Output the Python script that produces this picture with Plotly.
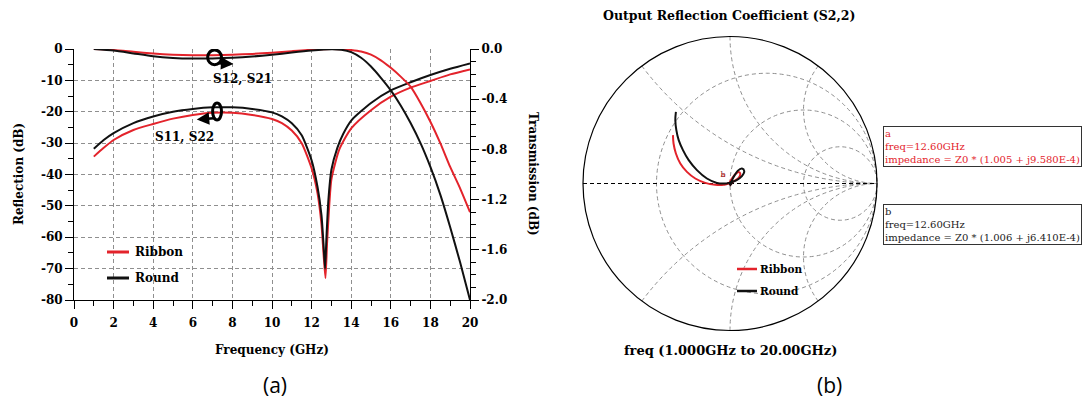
import numpy as np
import plotly.graph_objects as go

# ---------------------------------------------------------------- data
# (a) reflection S11/S22 in dB versus frequency (GHz)
REFL_FREQ = [1, 1.5, 2, 3, 4, 5, 6, 7, 8, 9, 10, 10.5, 11, 11.5, 12, 12.3, 12.5,
             12.6, 12.68, 12.75, 12.85, 13, 13.3, 13.6, 14, 15, 16, 17, 18, 19, 20]
REFL_ROUND = [-31.8, -29.0, -26.8, -23.6, -21.5, -20.0, -19.1, -18.6, -18.6, -19.1,
              -20.2, -21.5, -23.7, -27.5, -35.5, -44.0, -53.0, -62.0, -70.0, -60.0,
              -48.0, -38.5, -31.5, -27.0, -22.8, -17.2, -13.2, -10.6, -8.3, -6.3, -4.6]
REFL_FREQ_R = [1, 1.5, 2, 3, 4, 5, 6, 7, 8, 9, 10, 10.5, 11, 11.5, 12, 12.3, 12.5,
               12.6, 12.7, 12.78, 12.9, 13, 13.4, 14, 15, 16, 17, 18, 19, 20]
REFL_RIBBON = [-34.3, -31.5, -29.0, -25.8, -23.9, -22.2, -21.0, -20.3, -20.3, -21.0,
               -22.3, -23.6, -26.0, -30.0, -38.0, -46.0, -56.0, -65.0, -73.0, -62.0,
               -49.0, -41.5, -32.0, -25.3, -19.5, -15.2, -12.3, -10.2, -8.1, -6.5]

# (a) transmission S12/S21 in dB versus frequency (GHz)
TRANS_FREQ = [1, 2, 3, 4, 5, 6, 7, 8, 9, 10, 11, 12, 13, 13.5, 14, 14.5, 15, 15.5,
              16, 16.5, 17, 17.5, 18, 18.5, 19, 19.5, 20]
TRANS_ROUND = [0.0, -0.012, -0.035, -0.058, -0.071, -0.076, -0.075, -0.070, -0.060,
               -0.046, -0.028, -0.012, -0.002, -0.006, -0.025, -0.07, -0.14, -0.23,
               -0.33, -0.45, -0.59, -0.75, -0.94, -1.16, -1.42, -1.70, -2.0]
TRANS_RIBBON = [0.0, -0.008, -0.022, -0.036, -0.045, -0.049, -0.050, -0.046, -0.039,
                -0.029, -0.017, -0.006, 0.0, -0.002, -0.008, -0.02, -0.045, -0.09,
                -0.15, -0.22, -0.30, -0.43, -0.58, -0.75, -0.94, -1.11, -1.30]

# (b) output reflection coefficient S22 (complex, 1 GHz -> 20 GHz)
S22_ROUND_RE = [-0.368, -0.372, -0.365, -0.349, -0.320, -0.281, -0.225, -0.157, -0.089,
                -0.032, 0.002, 0.025, 0.052, 0.081, 0.097, 0.081, 0.043, 0.007]
S22_ROUND_IM = [0.487, 0.431, 0.363, 0.295, 0.227, 0.159, 0.091, 0.034, 0.004,
                0.0, 0.007, 0.045, 0.086, 0.102, 0.084, 0.050, 0.022, 0.011]
S22_RIBBON_RE = [-0.388, -0.384, -0.368, -0.338, -0.293, -0.236, -0.168, -0.100, -0.043,
                 -0.009, 0.013, 0.036, 0.059, 0.070, 0.059, 0.029, 0.007]
S22_RIBBON_IM = [0.329, 0.272, 0.204, 0.136, 0.079, 0.034, 0.004, -0.009, -0.009,
                 0.0, 0.034, 0.063, 0.079, 0.068, 0.038, 0.018, 0.009]

# markers at 12.60 GHz (normalised impedance)
MARKER_FREQ_GHZ = 12.60
MARKER_A = (1.005, 9.580e-4)   # Ribbon
MARKER_B = (1.006, 6.410e-4)   # Round

# smith chart grid
SMITH_REAL_GRID = [1 / 3, 1, 3]
SMITH_IMAG_GRID = [-2, -1, -0.5, 0.5, 1, 2]

# axis ticks
FREQ_TICKS = list(range(0, 21, 2))
REFL_TICKS = list(range(-80, 1, 10))
TRANS_TICKS = [-2.0, -1.6, -1.2, -0.8, -0.4, 0.0]

# ---------------------------------------------------------------- styling
W, H = 1091, 401
RED = "#e3232b"
BLACK = "#111111"
GRID = "#8f8f8f"
SERIF = "DejaVu Serif"
BOLD = dict(family=SERIF, size=12, color="black", weight="bold")


def fx(p):
    return p / W


def fy(p):
    return 1 - p / H


def to_impedance(re, im):
    g = np.asarray(re) + 1j * np.asarray(im)
    z = (1 + g) / (1 - g)
    return z.real, z.imag


def fmt_e(v):
    mant, exp = f"{v:.3E}".split("E")
    return f"{mant}E{int(exp)}"


fig = go.Figure()

# ---------------------------------------------------------------- (a) curves
fig.add_trace(go.Scatter(x=REFL_FREQ_R, y=REFL_RIBBON, mode="lines",
                         line=dict(color=RED, width=2, shape="spline", smoothing=0.6),
                         xaxis="x", yaxis="y", name="Ribbon S11"))
fig.add_trace(go.Scatter(x=REFL_FREQ, y=REFL_ROUND, mode="lines",
                         line=dict(color=BLACK, width=2, shape="spline", smoothing=0.6),
                         xaxis="x", yaxis="y", name="Round S11"))
fig.add_trace(go.Scatter(x=TRANS_FREQ, y=TRANS_RIBBON, mode="lines",
                         line=dict(color=RED, width=2, shape="spline", smoothing=0.6),
                         xaxis="x", yaxis="y2", name="Ribbon S21"))
fig.add_trace(go.Scatter(x=TRANS_FREQ, y=TRANS_ROUND, mode="lines",
                         line=dict(color=BLACK, width=2, shape="spline", smoothing=0.6),
                         xaxis="x", yaxis="y2", name="Round S21"))

# ---------------------------------------------------------------- (b) smith chart
# real axis drawn as a dashed diameter
fig.add_trace(go.Scattersmith(real=[0, 1e9], imag=[0, 0], mode="lines",
                              line=dict(color="black", width=1, dash="4px,3px"),
                              hoverinfo="skip"))
r_re, r_im = to_impedance(S22_RIBBON_RE, S22_RIBBON_IM)
b_re, b_im = to_impedance(S22_ROUND_RE, S22_ROUND_IM)
fig.add_trace(go.Scattersmith(real=r_re, imag=r_im, mode="lines",
                              line=dict(color=RED, width=2, shape="spline"), name="Ribbon"))
fig.add_trace(go.Scattersmith(real=b_re, imag=b_im, mode="lines",
                              line=dict(color=BLACK, width=2, shape="spline"), name="Round"))
fig.add_trace(go.Scattersmith(real=[MARKER_A[0]], imag=[MARKER_A[1]], mode="markers+text",
                              marker=dict(symbol="triangle-down", size=6, color=RED),
                              text=["a"], textposition="top left",
                              textfont=dict(family=SERIF, size=8, color=RED)))
fig.add_trace(go.Scattersmith(real=[MARKER_B[0]], imag=[MARKER_B[1]], mode="markers+text",
                              marker=dict(symbol="triangle-down", size=6, color=BLACK),
                              text=["b"], textposition="top left",
                              textfont=dict(family=SERIF, size=8, color="#8a3030")))

# ---------------------------------------------------------------- layout
fig.update_layout(
    width=W, height=H, margin=dict(l=0, r=0, t=0, b=0, pad=0, autoexpand=False),
    paper_bgcolor="white", plot_bgcolor="white", showlegend=False,
    xaxis=dict(domain=[fx(74), fx(470)], range=[0, 20], tickvals=FREQ_TICKS,
               ticktext=[str(v) for v in FREQ_TICKS], automargin=False,
               ticks="outside", ticklen=8, tickwidth=1, tickcolor="black",
               ticklabelstandoff=4,
               minor=dict(dtick=1, tick0=1, ticks="outside", ticklen=5, tickcolor="black",
                          showgrid=False),
               showline=True, linecolor="black", linewidth=1,
               showgrid=True, gridcolor=GRID, griddash="4px,3px", gridwidth=1,
               zeroline=False, tickfont=BOLD, anchor="y"),
    yaxis=dict(domain=[fy(300), fy(49)], range=[-80, 0], tickvals=REFL_TICKS,
               ticktext=[str(v) for v in REFL_TICKS], automargin=False,
               ticks="outside", ticklen=8, tickwidth=1, tickcolor="black",
               minor=dict(dtick=5, ticks="outside", ticklen=5, tickcolor="black",
                          showgrid=False),
               showline=True, linecolor="black", linewidth=1,
               showgrid=True, gridcolor=GRID, griddash="4px,3px", gridwidth=1,
               zeroline=False, tickfont=BOLD, anchor="x"),
    yaxis2=dict(overlaying="y", side="right", range=[-2.0, 0.0], tickvals=TRANS_TICKS,
                ticktext=[f"{v:.1f}" for v in TRANS_TICKS], automargin=False,
                ticks="outside", ticklen=8, tickwidth=1, tickcolor="black",
                minor=dict(dtick=0.1, ticks="outside", ticklen=5, tickcolor="black",
                           showgrid=False),
                showline=True, linecolor="black", linewidth=1, showgrid=False,
                zeroline=False, tickfont=BOLD, anchor="x"),
    smith=dict(
        domain=dict(x=[fx(583), fx(877)], y=[fy(331), fy(36)]),
        bgcolor="white",
        realaxis=dict(tickvals=SMITH_REAL_GRID, showticklabels=False, ticks="",
                      showgrid=True, gridcolor=GRID, griddash="4px,3px", gridwidth=1,
                      showline=False),
        imaginaryaxis=dict(tickvals=SMITH_IMAG_GRID, showticklabels=False, ticks="",
                           showgrid=True, gridcolor=GRID, griddash="4px,3px", gridwidth=1,
                           showline=True, linecolor="black", linewidth=1.2),
    ),
)

# ---------------------------------------------------------------- (a) decorations
ann = []
ann.append(dict(text="Reflection (dB)", x=fx(19), y=fy(174), textangle=-90, font=BOLD))
ann.append(dict(text="Transmission (dB)", x=fx(533), y=fy(174), textangle=90, font=BOLD))
ann.append(dict(text="Frequency (GHz)", x=fx(272), y=fy(350), font=BOLD))
ann.append(dict(text="S12, S21", x=8.5, y=-9.6, xref="x", yref="y", font=BOLD))
ann.append(dict(text="S11, S22", x=5.6, y=-28.0, xref="x", yref="y", font=BOLD))
# arrows from the grouping ellipses
ann.append(dict(text="", x=8.05, y=-4.8, xref="x", yref="y", ax=7.2, ay=-4.5,
                axref="x", ayref="y", showarrow=True, arrowhead=2, arrowsize=1,
                arrowwidth=2.5, arrowcolor="black"))
ann.append(dict(text="", x=6.2, y=-22.5, xref="x", yref="y", ax=7.15, ay=-22.0,
                axref="x", ayref="y", showarrow=True, arrowhead=2, arrowsize=1,
                arrowwidth=2.5, arrowcolor="black"))
ann.append(dict(text="Ribbon", x=fx(133), y=fy(252), xanchor="left", font=BOLD))
ann.append(dict(text="Round", x=fx(133), y=fy(278), xanchor="left", font=BOLD))
ann.append(dict(text="(a)", x=fx(275), y=fy(385),
                font=dict(family="Open Sans", size=21, color="black")))

# ---------------------------------------------------------------- (b) decorations
ann.append(dict(text="Output Reflection Coefficient (S2,2)", x=fx(729), y=fy(15),
                font=dict(family=SERIF, size=12.5, color="black", weight="bold")))
ann.append(dict(text="freq (1.000GHz to 20.00GHz)", x=fx(730), y=fy(350),
                font=dict(family=SERIF, size=13, color="black", weight="bold")))
SMALL_BOLD = dict(family=SERIF, size=10.5, color="black", weight="bold")
ann.append(dict(text="Ribbon", x=fx(758), y=fy(269), xanchor="left", font=SMALL_BOLD))
ann.append(dict(text="Round", x=fx(758), y=fy(291), xanchor="left", font=SMALL_BOLD))
ann.append(dict(text="(b)", x=fx(829), y=fy(385),
                font=dict(family="Open Sans", size=21, color="black")))

box_a = (f"a<br>freq={MARKER_FREQ_GHZ:.2f}GHz<br>"
         f"impedance = Z0 * ({MARKER_A[0]:.3f} + j{fmt_e(MARKER_A[1])})")
box_b = (f"b<br>freq={MARKER_FREQ_GHZ:.2f}GHz<br>"
         f"impedance = Z0 * ({MARKER_B[0]:.3f} + j{fmt_e(MARKER_B[1])})")
ann.append(dict(text=box_a, x=fx(883), y=fy(126), xanchor="left", yanchor="top",
                align="left", bordercolor="#333", borderwidth=1, borderpad=1,
                bgcolor="white", font=dict(family=SERIF, size=10, color=RED)))
ann.append(dict(text=box_b, x=fx(883), y=fy(204), xanchor="left", yanchor="top",
                align="left", bordercolor="#333", borderwidth=1, borderpad=1,
                bgcolor="white", font=dict(family=SERIF, size=10, color="#222")))

for a in ann:
    a.setdefault("xref", "paper")
    a.setdefault("yref", "paper")
    a.setdefault("xanchor", "center")
    a.setdefault("yanchor", "middle")
    a.setdefault("showarrow", False)
    fig.add_annotation(**a)

# ---------------------------------------------------------------- shapes
shapes = [
    # grouping ellipses
    dict(type="circle", xref="x", yref="y", x0=6.75, x1=7.45, y0=-5.0, y1=-0.3,
         line=dict(color="black", width=3)),
    dict(type="circle", xref="x", yref="y", x0=7.0, x1=7.45, y0=-22.6, y1=-17.2,
         line=dict(color="black", width=3)),
    # legend keys (a)
    dict(type="line", xref="paper", yref="paper", x0=fx(107), x1=fx(129), y0=fy(252), y1=fy(252),
         line=dict(color=RED, width=3)),
    dict(type="line", xref="paper", yref="paper", x0=fx(107), x1=fx(129), y0=fy(278), y1=fy(278),
         line=dict(color=BLACK, width=3)),
    # legend keys (b)
    dict(type="line", xref="paper", yref="paper", x0=fx(737), x1=fx(757), y0=fy(269), y1=fy(269),
         line=dict(color=RED, width=2.5)),
    dict(type="line", xref="paper", yref="paper", x0=fx(737), x1=fx(757), y0=fy(291), y1=fy(291),
         line=dict(color=BLACK, width=2.5)),
]
for s in shapes:
    fig.add_shape(**s)

fig.write_html("out.html")
